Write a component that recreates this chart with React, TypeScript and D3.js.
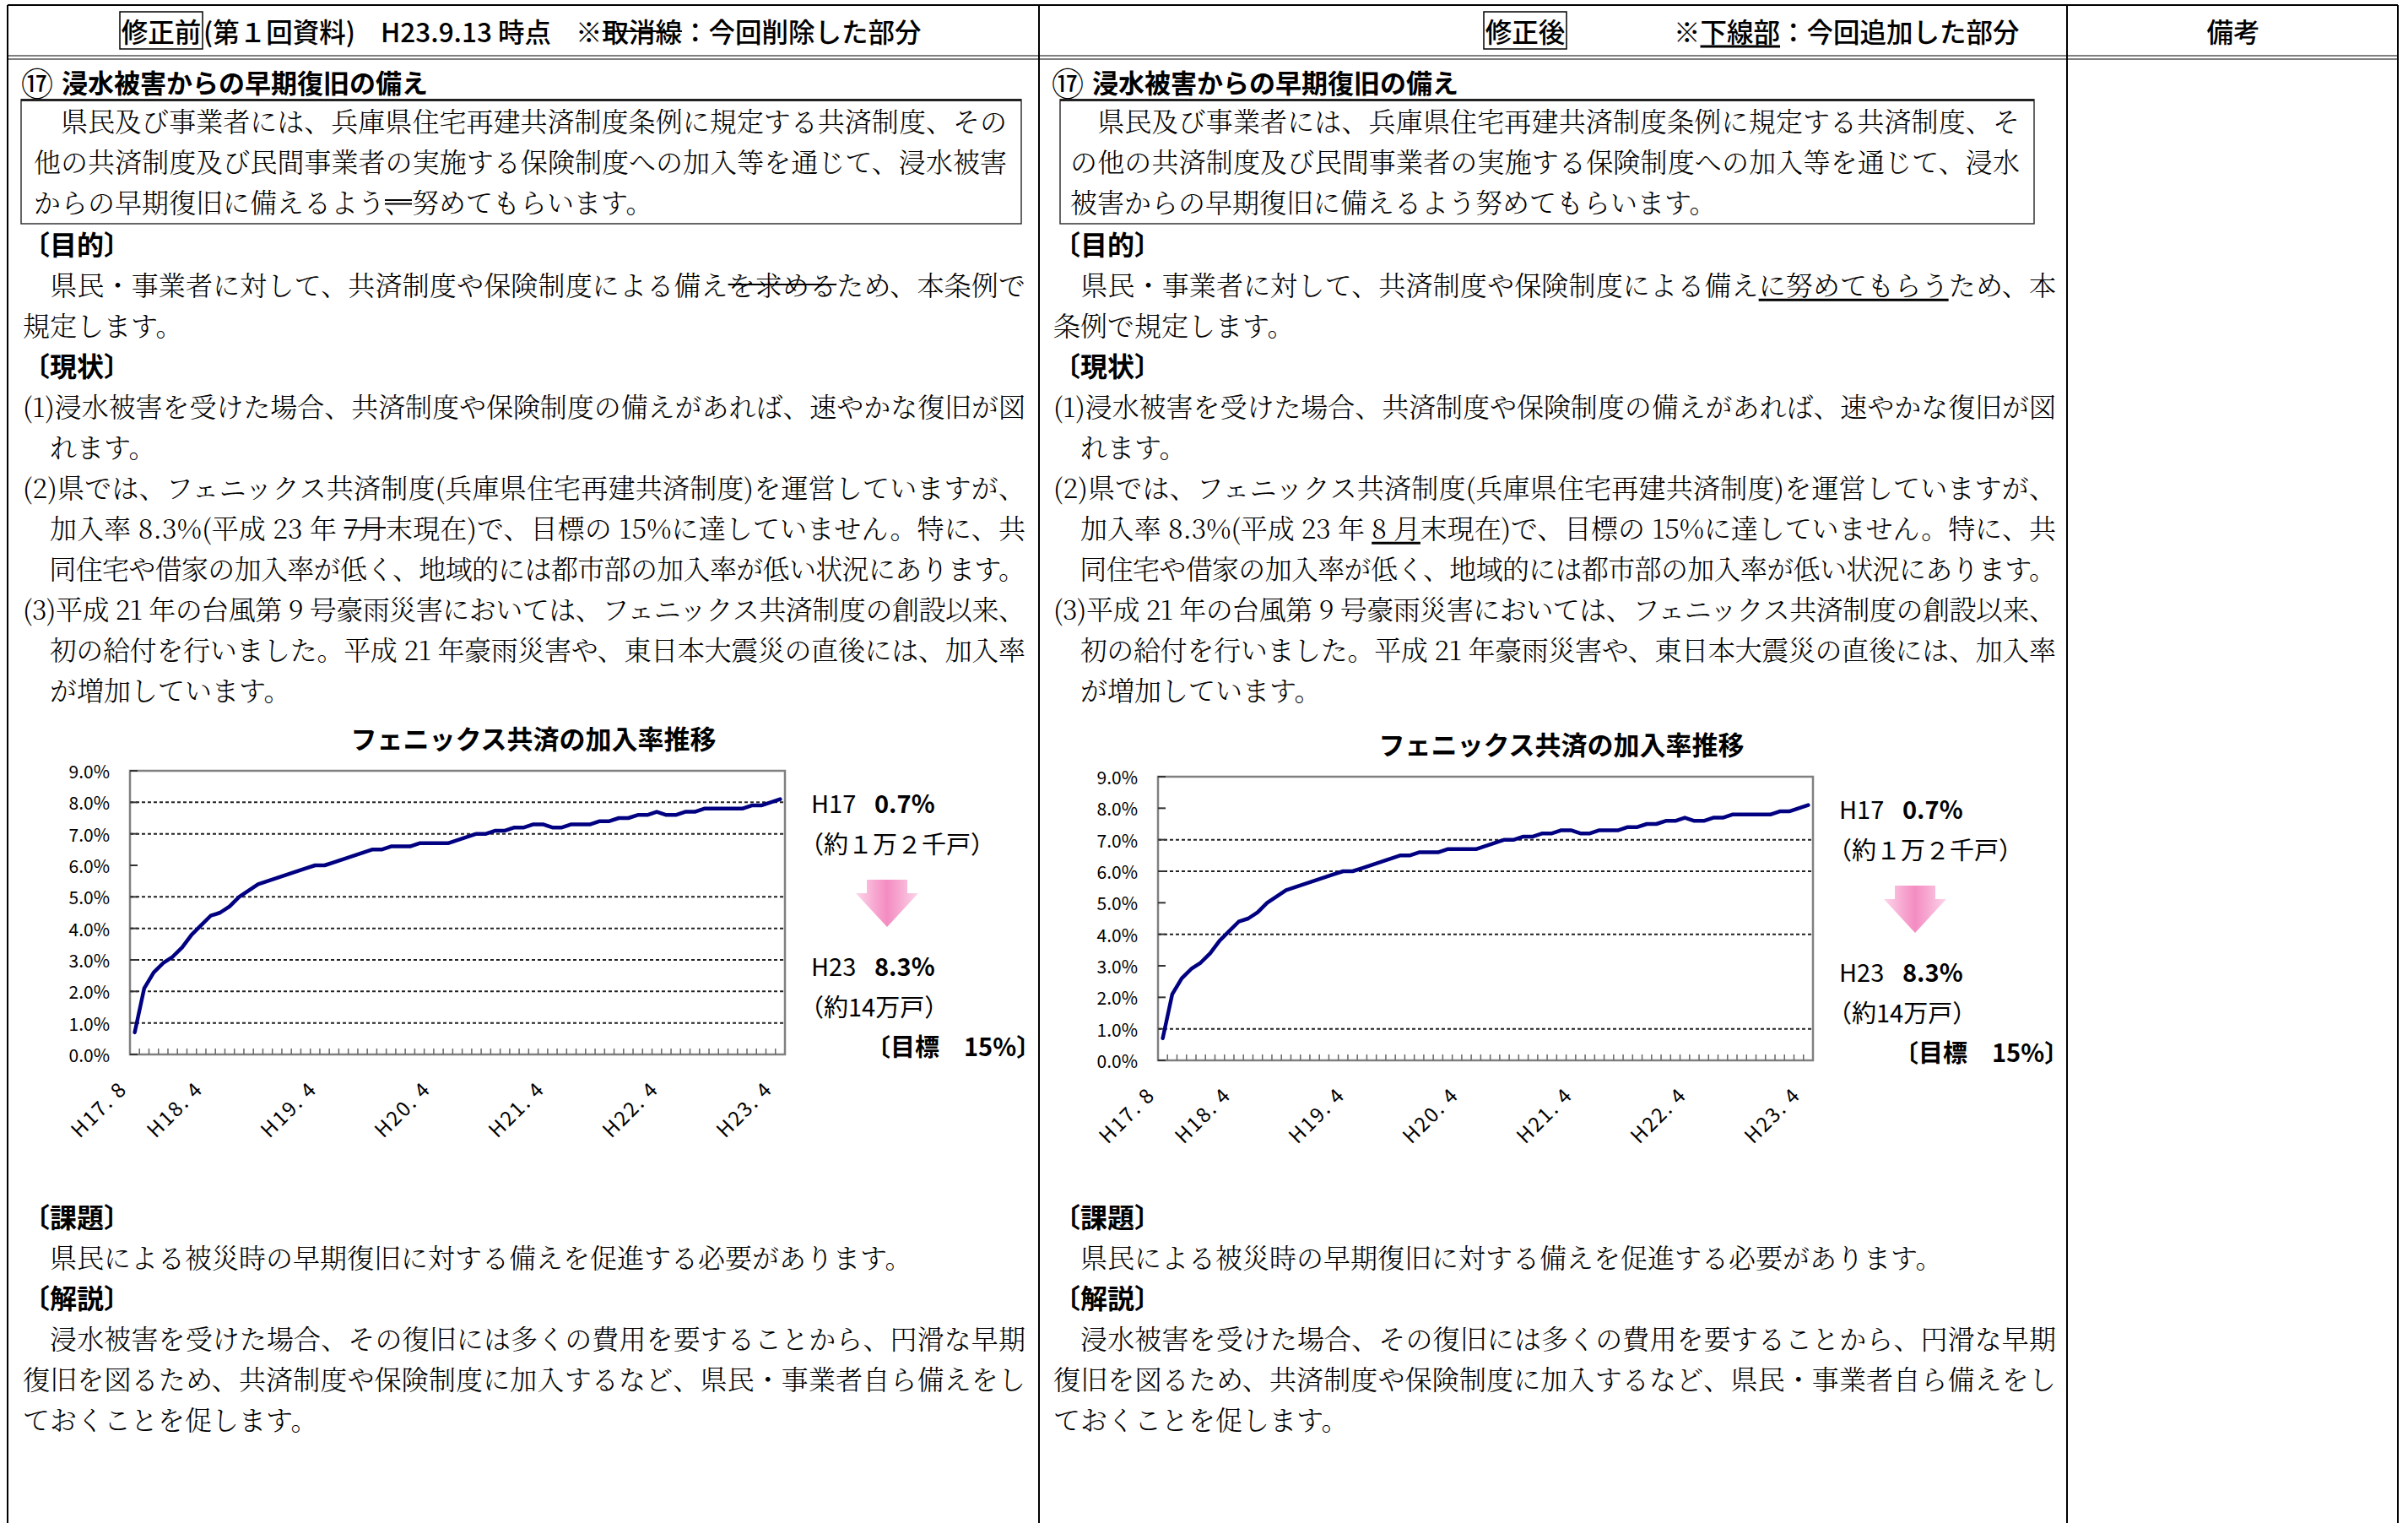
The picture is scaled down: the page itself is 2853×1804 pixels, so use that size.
import * as d3 from 'd3';
import React, { useEffect, useRef } from 'react';

const W = 2853;
const H = 1804;

const GOTHIC = "'Noto Sans CJK JP', 'Noto Sans', sans-serif";
const MINCHO = "'Noto Serif CJK JP', 'Noto Sans CJK JP', serif";

// monthly categories H17.8 - H23.4
const months = [
  'H17.8', 'H17.9', 'H17.10', 'H17.11', 'H17.12',
  'H18.1', 'H18.2', 'H18.3', 'H18.4', 'H18.5', 'H18.6', 'H18.7', 'H18.8', 'H18.9', 'H18.10', 'H18.11', 'H18.12',
  'H19.1', 'H19.2', 'H19.3', 'H19.4', 'H19.5', 'H19.6', 'H19.7', 'H19.8', 'H19.9', 'H19.10', 'H19.11', 'H19.12',
  'H20.1', 'H20.2', 'H20.3', 'H20.4', 'H20.5', 'H20.6', 'H20.7', 'H20.8', 'H20.9', 'H20.10', 'H20.11', 'H20.12',
  'H21.1', 'H21.2', 'H21.3', 'H21.4', 'H21.5', 'H21.6', 'H21.7', 'H21.8', 'H21.9', 'H21.10', 'H21.11', 'H21.12',
  'H22.1', 'H22.2', 'H22.3', 'H22.4', 'H22.5', 'H22.6', 'H22.7', 'H22.8', 'H22.9', 'H22.10', 'H22.11', 'H22.12',
  'H23.1', 'H23.2', 'H23.3', 'H23.4',
];

// enrolment rate (%)
const rates = [
  0.7, 2.1, 2.6, 2.9, 3.1,
  3.4, 3.8, 4.1, 4.4, 4.5, 4.7, 5.0, 5.2, 5.4, 5.5, 5.6, 5.7,
  5.8, 5.9, 6.0, 6.0, 6.1, 6.2, 6.3, 6.4, 6.5, 6.5, 6.6, 6.6,
  6.6, 6.7, 6.7, 6.7, 6.7, 6.8, 6.9, 7.0, 7.0, 7.1, 7.1, 7.2,
  7.2, 7.3, 7.3, 7.2, 7.2, 7.3, 7.3, 7.3, 7.4, 7.4, 7.5, 7.5,
  7.6, 7.6, 7.7, 7.6, 7.6, 7.7, 7.7, 7.8, 7.8, 7.8, 7.8, 7.8,
  7.9, 7.9, 8.0, 8.1,
];

const labelledMonths = ['H17.8', 'H18.4', 'H19.4', 'H20.4', 'H21.4', 'H22.4', 'H23.4'];
const labelTexts = ['H17. 8', 'H18. 4', 'H19. 4', 'H20. 4', 'H21. 4', 'H22. 4', 'H23. 4'];

const yTicks = [0, 1, 2, 3, 4, 5, 6, 7, 8, 9];
// dotted gridlines visible in each copy of the chart
const gridLeft = [1, 2, 3, 4, 5, 7, 8];
const gridRight = [1, 4, 6, 7];

const chartTitle = 'フェニックス共済の加入率推移';

type Deco = 'strike' | 'strike2' | 'under';
type Seg = { t: string; d?: Deco };
type Line = { segs: Seg[]; full?: boolean; head?: boolean };
const s = (t: string, d?: Deco): Seg => ({ t, d });

const sectionNo = '⑰';
const sectionTitle = '浸水被害からの早期復旧の備え';

const leftBox: Line[] = [
  { segs: [s('　県民及び事業者には、兵庫県住宅再建共済制度条例に規定する共済制度、その')], full: true },
  { segs: [s('他の共済制度及び民間事業者の実施する保険制度への加入等を通じて、浸水被害')], full: true },
  { segs: [s('からの早期復旧に備えるよう'), s('、', 'strike2'), s('努めてもらいます。')] },
];

const rightBox: Line[] = [
  { segs: [s('　県民及び事業者には、兵庫県住宅再建共済制度条例に規定する共済制度、そ')], full: true },
  { segs: [s('の他の共済制度及び民間事業者の実施する保険制度への加入等を通じて、浸水')], full: true },
  { segs: [s('被害からの早期復旧に備えるよう努めてもらいます。')] },
];

const leftBody: Line[] = [
  { segs: [s('〔目的〕')], head: true },
  { segs: [s('　県民・事業者に対して、共済制度や保険制度による備え'), s('を求める', 'strike'), s('ため、本条例で')], full: true },
  { segs: [s('規定します。')] },
  { segs: [s('〔現状〕')], head: true },
  { segs: [s('(1)浸水被害を受けた場合、共済制度や保険制度の備えがあれば、速やかな復旧が図')], full: true },
  { segs: [s('　れます。')] },
  { segs: [s('(2)県では、フェニックス共済制度(兵庫県住宅再建共済制度)を運営していますが、')], full: true },
  { segs: [s('　加入率 8.3%(平成 23 年 '), s('7月', 'strike'), s('末現在)で、目標の 15%に達していません。特に、共')], full: true },
  { segs: [s('　同住宅や借家の加入率が低く、地域的には都市部の加入率が低い状況にあります。')], full: true },
  { segs: [s('(3)平成 21 年の台風第 9 号豪雨災害においては、フェニックス共済制度の創設以来、')], full: true },
  { segs: [s('　初の給付を行いました。平成 21 年豪雨災害や、東日本大震災の直後には、加入率')], full: true },
  { segs: [s('　が増加しています。')] },
];

const rightBody: Line[] = [
  { segs: [s('〔目的〕')], head: true },
  { segs: [s('　県民・事業者に対して、共済制度や保険制度による備え'), s('に努めてもらう', 'under'), s('ため、本')], full: true },
  { segs: [s('条例で規定します。')] },
  { segs: [s('〔現状〕')], head: true },
  { segs: [s('(1)浸水被害を受けた場合、共済制度や保険制度の備えがあれば、速やかな復旧が図')], full: true },
  { segs: [s('　れます。')] },
  { segs: [s('(2)県では、フェニックス共済制度(兵庫県住宅再建共済制度)を運営していますが、')], full: true },
  { segs: [s('　加入率 8.3%(平成 23 年 '), s('8 月', 'under'), s('末現在)で、目標の 15%に達していません。特に、共')], full: true },
  { segs: [s('　同住宅や借家の加入率が低く、地域的には都市部の加入率が低い状況にあります。')], full: true },
  { segs: [s('(3)平成 21 年の台風第 9 号豪雨災害においては、フェニックス共済制度の創設以来、')], full: true },
  { segs: [s('　初の給付を行いました。平成 21 年豪雨災害や、東日本大震災の直後には、加入率')], full: true },
  { segs: [s('　が増加しています。')] },
];

const bottomBody: Line[] = [
  { segs: [s('〔課題〕')], head: true },
  { segs: [s('　県民による被災時の早期復旧に対する備えを促進する必要があります。')] },
  { segs: [s('〔解説〕')], head: true },
  { segs: [s('　浸水被害を受けた場合、その復旧には多くの費用を要することから、円滑な早期')], full: true },
  { segs: [s('復旧を図るため、共済制度や保険制度に加入するなど、県民・事業者自ら備えをし')], full: true },
  { segs: [s('ておくことを促します。')] },
];

type Sel = d3.Selection<any, unknown, null, undefined>;

function drawRich(
  g: Sel, segs: Seg[], x: number, y: number,
  o: { family: string; size: number; weight: number; width?: number; anchor?: string }
) {
  const t = g.append('text')
    .attr('x', x).attr('y', y)
    .attr('dominant-baseline', 'central')
    .attr('text-anchor', o.anchor || 'start')
    .attr('fill', '#000')
    .style('font-family', o.family)
    .style('font-size', `${o.size}px`)
    .style('font-weight', o.weight)
    .style('white-space', 'pre');
  segs.forEach(sg => t.append('tspan').text(sg.t));
  if (o.width) t.attr('textLength', o.width).attr('lengthAdjust', 'spacing');
  const node = t.node() as SVGTextElement;
  let i = 0;
  segs.forEach(sg => {
    const n = sg.t.length;
    if (sg.d) {
      const x0 = node.getStartPositionOfChar(i).x;
      const x1 = node.getEndPositionOfChar(i + n - 1).x;
      const ys = sg.d === 'under' ? [y + o.size * 0.6] : sg.d === 'strike' ? [y + 1] : [y - 1, y + 3.5];
      ys.forEach(ly => {
        g.append('line')
          .attr('x1', x0).attr('x2', x1).attr('y1', ly).attr('y2', ly)
          .attr('stroke', '#000')
          .attr('stroke-width', sg.d === 'under' ? 3 : 2);
      });
    }
    i += n;
  });
}

function drawLines(g: Sel, lines: Line[], x: number, y0: number, width: number) {
  lines.forEach((ln, k) => {
    drawRich(g, ln.segs, x, y0 + k * 48, {
      family: ln.head ? GOTHIC : MINCHO,
      size: 32,
      weight: ln.head ? 700 : 300,
      width: ln.full ? width : undefined,
    });
  });
}

const PW = 776;
const PH = 336;

function drawChart(root: Sel, ox: number, oy: number, grid: number[]) {
  const g = root.append('g').attr('transform', `translate(${ox},${oy})`);
  const x = d3.scaleBand<string>().domain(months).range([0, PW]);
  const y = d3.scaleLinear().domain([0, 9]).range([PH, 0]);
  const bw = x.bandwidth();

  g.append('text')
    .attr('x', 478).attr('y', -40)
    .attr('text-anchor', 'middle').attr('dominant-baseline', 'central')
    .style('font-family', GOTHIC).style('font-size', '31px').style('font-weight', 700)
    .text(chartTitle);

  // gridlines
  g.selectAll('.grid').data(grid).enter().append('line')
    .attr('x1', 0).attr('x2', PW)
    .attr('y1', d => y(d)).attr('y2', d => y(d))
    .attr('stroke', '#222').attr('stroke-width', 2).attr('stroke-dasharray', '4,3');

  // frame
  g.append('rect').attr('x', 0).attr('y', 0).attr('width', PW).attr('height', PH)
    .attr('fill', 'none').attr('stroke', '#808080').attr('stroke-width', 2.5);

  // y ticks (inside) and labels
  g.selectAll('.ytick').data(yTicks).enter().append('line')
    .attr('x1', 0).attr('x2', 9)
    .attr('y1', d => y(d)).attr('y2', d => y(d))
    .attr('stroke', '#333').attr('stroke-width', 2);
  g.selectAll('.ylab').data(yTicks).enter().append('text')
    .attr('x', -24).attr('y', d => y(d))
    .attr('text-anchor', 'end').attr('dominant-baseline', 'central')
    .style('font-family', GOTHIC).style('font-size', '21px')
    .text(d => d3.format('.1f')(d) + '%');

  // x ticks at category boundaries
  g.selectAll('.xtick').data(months.slice(1)).enter().append('line')
    .attr('x1', d => x(d) as number).attr('x2', d => x(d) as number)
    .attr('y1', PH - 7).attr('y2', PH)
    .attr('stroke', '#666').attr('stroke-width', 1.5);

  // x labels
  labelledMonths.forEach((m, k) => {
    const ax = (x(m) as number) + bw / 2 - 15;
    const ay = PH + 35;
    g.append('text')
      .attr('transform', `translate(${ax},${ay}) rotate(-45)`)
      .attr('text-anchor', 'end').attr('dominant-baseline', 'central')
      .style('font-family', GOTHIC).style('font-size', '24px')
      .style('letter-spacing', '2px')
      .style('white-space', 'pre')
      .text(labelTexts[k]);
  });

  // series line
  const line = d3.line<number>()
    .x((_, i) => (x(months[i]) as number) + bw / 2)
    .y(d => y(d));
  g.append('path').datum(rates)
    .attr('d', line)
    .attr('fill', 'none').attr('stroke', '#000080')
    .attr('stroke-width', 4.5).attr('stroke-linejoin', 'round').attr('stroke-linecap', 'round');

  // annotations
  const ann = (t: string, ax: number, ay: number, w: number) =>
    g.append('text').attr('x', ax).attr('y', ay).attr('dominant-baseline', 'central')
      .style('font-family', GOTHIC).style('font-size', '29px').style('font-weight', w)
      .style('white-space', 'pre').text(t);
  ann('H17', 807, 37, 400);
  ann('0.7%', 882, 37, 700);
  ann('（約１万２千戸）', 793, 85, 400);
  ann('H23', 807, 230, 400);
  ann('8.3%', 882, 230, 700);
  ann('（約14万戸）', 793, 278, 400);
  ann('〔目標　15%〕', 872, 325, 700);

  // pink arrow
  const arrow = d3.path();
  arrow.moveTo(873, 129);
  arrow.lineTo(921, 129);
  arrow.lineTo(921, 145);
  arrow.lineTo(934, 145);
  arrow.lineTo(897, 185);
  arrow.lineTo(860, 145);
  arrow.lineTo(873, 145);
  arrow.closePath();
  g.append('path').attr('d', arrow.toString()).attr('fill', 'url(#pinkArrow)');
}

export default function App() {
  const ref = useRef<SVGSVGElement>(null);

  useEffect(() => {
    if (!ref.current) return;
    document.body.style.margin = '0';
    const svg = d3.select(ref.current);
    svg.selectAll('*').remove();

    svg.append('rect').attr('width', W).attr('height', H).attr('fill', '#fff');

    const grad = svg.append('defs').append('linearGradient')
      .attr('id', 'pinkArrow').attr('x1', '0').attr('x2', '1').attr('y1', '0').attr('y2', '0');
    [['0', '#fcd6ea'], ['0.3', '#f7a8d1'], ['0.5', '#f48cc2'], ['0.7', '#f7a8d1'], ['1', '#fcd6ea']]
      .forEach(([o, c]) => grad.append('stop').attr('offset', o).attr('stop-color', c));

    // table frame
    const hl = (x1: number, x2: number, yy: number, w: number, c: string) =>
      svg.append('line').attr('x1', x1).attr('x2', x2).attr('y1', yy).attr('y2', yy)
        .attr('stroke', c).attr('stroke-width', w);
    hl(9, 2841, 6, 2, '#000');
    hl(9, 2841, 66, 1.6, '#555');
    hl(9, 2841, 70, 1.6, '#555');
    [9, 1231, 2449, 2841].forEach(vx => {
      svg.append('line').attr('x1', vx).attr('x2', vx).attr('y1', 6).attr('y2', H)
        .attr('stroke', '#000').attr('stroke-width', 2);
    });

    // header row
    const hdr = { family: GOTHIC, size: 31.5, weight: 500 };
    svg.append('rect').attr('x', 142).attr('y', 14).attr('width', 98).attr('height', 44)
      .attr('fill', 'none').attr('stroke', '#000').attr('stroke-width', 1.5);
    drawRich(svg, [s('修正前')], 191, 36, { ...hdr, anchor: 'middle' });
    drawRich(svg, [s('(第１回資料)')], 241, 36, hdr);
    drawRich(svg, [s('H23.9.13 時点')], 451, 36, hdr);
    drawRich(svg, [s('※'), s('取消線', 'strike'), s('：今回削除した部分')], 682, 36, hdr);
    svg.append('rect').attr('x', 1758).attr('y', 14).attr('width', 98).attr('height', 44)
      .attr('fill', 'none').attr('stroke', '#000').attr('stroke-width', 1.5);
    drawRich(svg, [s('修正後')], 1807, 36, { ...hdr, anchor: 'middle' });
    drawRich(svg, [s('※'), s('下線部', 'under'), s('：今回追加した部分')], 1983, 36, hdr);
    drawRich(svg, [s('備考')], 2646, 36, { ...hdr, anchor: 'middle' });

    const columns = [
      { x: 27, titleX: 25, boxX: 25, boxW: 1185, boxTextX: 40, boxTextW: 1153, box: leftBox, body: leftBody, cx: 154, cy: 913, grid: gridLeft },
      { x: 1248, titleX: 1246, boxX: 1256, boxW: 1154, boxTextX: 1268, boxTextW: 1125, box: rightBox, body: rightBody, cx: 1372, cy: 920, grid: gridRight },
    ];

    columns.forEach(col => {
      drawRich(svg, [s(sectionNo)], col.titleX, 96, { family: GOTHIC, size: 38, weight: 400 });
      drawRich(svg, [s(sectionTitle)], col.titleX + 48, 96, { family: GOTHIC, size: 31, weight: 700 });

      svg.append('rect').attr('x', col.boxX).attr('y', 118).attr('width', col.boxW).attr('height', 147)
        .attr('fill', 'none').attr('stroke', '#333').attr('stroke-width', 1.5);
      hl(col.boxX, col.boxX + col.boxW, 118.5, 3, '#222');
      drawLines(svg, col.box, col.boxTextX, 142, col.boxTextW);

      drawLines(svg, col.body, col.x, 288, 1188);
      drawChart(svg, col.cx, col.cy, col.grid);
      drawLines(svg, bottomBody, col.x, 1440, 1188);
    });
  }, []);

  return (
    <svg
      ref={ref}
      width={W}
      height={H}
      style={{ display: 'block', position: 'absolute', left: 0, top: 0 }}
    />
  );
}
